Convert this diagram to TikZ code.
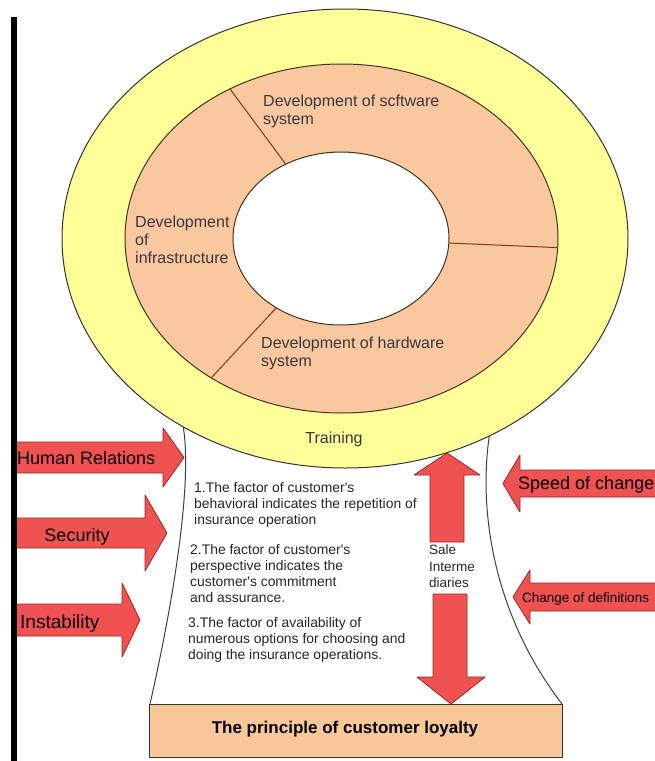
\documentclass[tikz,border=0pt]{standalone}
\usepackage{fontspec}
\setmainfont{Liberation Sans}
\usetikzlibrary{calc}
\definecolor{ringyellow}{RGB}{255,255,153}
\definecolor{ringorange}{RGB}{250,200,158}
\definecolor{basepeach}{RGB}{249,200,152}
\definecolor{arrowred}{RGB}{240,82,82}
\definecolor{arrowedge}{RGB}{160,35,35}
\definecolor{ringline}{RGB}{70,50,30}
\definecolor{splitline}{RGB}{130,55,25}
\definecolor{ringtext}{RGB}{55,55,70}

\tikzset{
  redarrow/.style={fill=arrowred, draw=arrowedge, line width=0.8pt, line join=round},
  ringlabel/.style={inner sep=0pt, text=ringtext, align=left, font=\fontsize{16}{18}\selectfont},
  factortext/.style={inner sep=0pt, align=left, text=black!85, font=\fontsize{13.9}{16.2}\selectfont},
  arrowlabel/.style={inner sep=0pt, text=black, font=\fontsize{18}{20}\selectfont},
}

\begin{document}
\begin{tikzpicture}[x=1pt, y=-1pt]
\useasboundingbox (0,0) rectangle (655,761);

% Trunk
\draw[line width=1pt, black!75] (182,420) .. controls (193,470) and (178,580) .. (150,704);
\draw[line width=1pt, black!75] (492,420) .. controls (476,500) and (490,610) .. (562,704);

% Rings
\draw[fill=ringyellow, draw=black!80, line width=1pt] (345,238.5) ellipse [x radius=283pt, y radius=229.5pt];
\draw[fill=ringorange, draw=ringline, line width=1pt] (341.5,238.5) ellipse [x radius=216.5pt, y radius=174.5pt];
\draw[fill=white, draw=ringline, line width=1pt] (341,238.5) ellipse [x radius=108pt, y radius=86.5pt];

% Dividers
\coordinate (ctr) at (341.5,238.5);
\foreach \a in {121,-3,233}
  \draw[splitline, line width=1pt] ($(ctr)+(\a:108pt and 86.5pt)$) -- ($(ctr)+(\a:216.5pt and 174.5pt)$);

% Base
\draw[fill=basepeach, draw=black!80, line width=1pt] (149,704) rectangle (562,757);

% Arrows from the left
\draw[redarrow] (12,442) -- (163,442) -- (163,428) -- (184,457.5) -- (163,487) -- (163,473) -- (12,473) -- cycle;
\draw[redarrow] (12,518) -- (145,518) -- (145,495) -- (167,533) -- (145,571) -- (145,548) -- (12,548) -- cycle;
\draw[redarrow] (12,604) -- (122,604) -- (122,583) -- (140,620) -- (122,657) -- (122,636) -- (12,636) -- cycle;

% Arrows from the right
\draw[redarrow] (660,470) -- (520,470) -- (520,455) -- (503,483.5) -- (520,512) -- (520,497) -- (660,497) -- cycle;
\draw[redarrow] (660,583) -- (530,583) -- (530,570) -- (513,597) -- (530,624) -- (530,611) -- (660,611) -- cycle;

% Up and down
\draw[redarrow] (430,542) -- (430,475) -- (414,475) -- (447,453) -- (480,475) -- (464,475) -- (464,542) -- cycle;
\draw[redarrow] (433,594) -- (433,677) -- (417,677) -- (451,704) -- (485,677) -- (467,677) -- (467,594) -- cycle;

% Bar
\fill[black] (11,17) rectangle (17,761);

% Ring texts
\node[ringlabel, anchor=north west] (sw) at (263,94.5) {Development of scftware\\system};
\node[ringlabel, anchor=north west] (infra) at (135,215.5) {Development\\of\\infrastructure};
\node[ringlabel, anchor=north west] (hw) at (261,336.5) {Development of hardware\\system};
\node[ringlabel, anchor=base] (train) at (334,443) {Training};

% Factors
\node[factortext, anchor=north west] (f1) at (194,482) {1.The factor of customer\textquotesingle s\\behavioral indicates the repetition of\\insurance operation};
\node[factortext, anchor=north west] (f2) at (190,544) {2.The factor of customer\textquotesingle s\\perspective indicates the\\customer\textquotesingle s commitment\\and assurance.};
\node[factortext, anchor=north west] (f3) at (188,617) {3.The factor of availability of\\numerous options for choosing and\\doing the insurance operations.};
\node[factortext, anchor=north west, font=\fontsize{13.5}{16.5}\selectfont] (sale) at (429,545) {Sale\\Interme\\diaries};

% Arrow labels
\node[arrowlabel, anchor=base west] (hr) at (17,464.5) {Human Relations};
\node[arrowlabel, anchor=base] (sec) at (77,541.5) {Security};
\node[arrowlabel, anchor=base west, font=\fontsize{19}{21}\selectfont] (inst) at (20,628.5) {Instability};
\node[arrowlabel, anchor=base west] (speed) at (518,489.5) {Speed of change};
\node[arrowlabel, anchor=base west, font=\fontsize{13.5}{15}\selectfont] (chdef) at (522,602) {Change of definitions};
\node[inner sep=0pt, anchor=base, font=\bfseries\fontsize{17}{19}\selectfont] (loyal) at (345,733) {The principle of customer loyalty};
\end{tikzpicture}
\end{document}
